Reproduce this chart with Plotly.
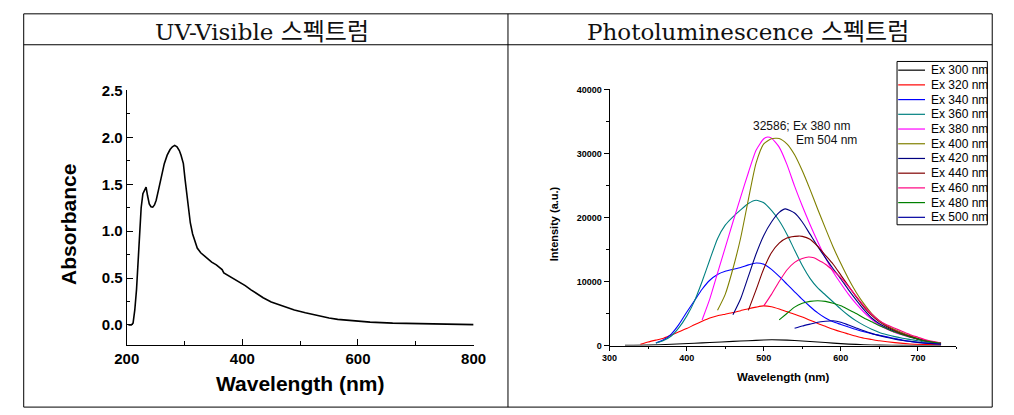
import plotly.graph_objects as go

# ---------------- UV-Visible data ----------------
uv_wavelength = [203, 208, 211, 214, 217, 219.5, 222, 225, 228, 231, 233.5, 236, 239, 242, 245,
                 248, 251, 255, 260, 265, 270, 275, 279, 283, 287, 291, 294, 298, 301, 304,
                 307, 310, 314, 318, 322, 328, 334, 340, 347, 355, 362, 365, 368, 372, 378,
                 385, 395, 405, 415, 425, 436, 450, 470, 490, 509, 530, 550, 565, 600, 621,
                 660, 700, 750, 800]
uv_absorbance = [0.0, 0.0, 0.02, 0.16, 0.38, 0.68, 1.0, 1.25, 1.40, 1.45, 1.47, 1.38, 1.29, 1.26, 1.256,
                 1.28, 1.33, 1.44, 1.58, 1.72, 1.81, 1.87, 1.90, 1.915, 1.90, 1.86, 1.81, 1.72, 1.55, 1.38,
                 1.22, 1.09, 0.97, 0.88, 0.82, 0.77, 0.74, 0.70, 0.67, 0.64, 0.61, 0.59, 0.555, 0.54, 0.52,
                 0.50, 0.46, 0.42, 0.375, 0.335, 0.29, 0.245, 0.20, 0.16, 0.13, 0.10, 0.075, 0.06, 0.04, 0.03,
                 0.02, 0.014, 0.008, 0.004]

# ---------------- Photoluminescence data ----------------
pl_names = ["Ex 300 nm", "Ex 320 nm", "Ex 340 nm", "Ex 360 nm", "Ex 380 nm", "Ex 400 nm",
            "Ex 420 nm", "Ex 440 nm", "Ex 460 nm", "Ex 480 nm", "Ex 500 nm"]
pl_colors = ["#000000", "#FF0000", "#0000FF", "#008080", "#FF00FF", "#808000",
             "#000080", "#800000", "#FF0080", "#008000", "#0000A0"]

ex300_wl = [320, 350, 380, 410, 430, 460, 480, 500, 510, 530, 550, 570, 590, 610, 630, 650, 680, 730]
ex300_int = [20, 60, 200, 350, 480, 650, 760, 870, 900, 850, 720, 560, 380, 230, 130, 70, 30, 10]

ex320_wl = [340, 350, 360, 370, 380, 390, 400, 410, 420, 430, 440, 450, 460, 470, 480, 490, 500, 510,
            520, 530, 540, 550, 560, 570, 580, 590, 600, 610, 620, 630, 640, 650, 670, 690, 710, 730]
ex320_int = [200, 550, 850, 1150, 1650, 2150, 2650, 3250, 3800, 4300, 4650, 4900, 5150, 5450, 5750, 6000, 6200, 6050,
             5700, 5300, 4900, 4450, 3950, 3450, 3000, 2550, 2150, 1800, 1450, 1150, 950, 750, 450, 250, 180, 120]

ex340_wl = [360, 370, 380, 390, 400, 410, 420, 430, 440, 450, 460, 470, 480, 490, 500, 510, 520, 530,
            540, 550, 560, 570, 580, 590, 600, 610, 620, 630, 640, 650, 660, 670, 680, 690, 700, 710, 730]
ex340_int = [400, 900, 1800, 3300, 5200, 7000, 8800, 10200, 11100, 11600, 11900, 12200, 12600, 12900, 12700, 11900, 10800, 9600,
             8400, 7200, 6100, 5100, 4300, 3700, 3300, 2900, 2500, 2150, 1850, 1600, 1350, 1100, 850, 650, 500, 380, 250]

ex360_wl = [360, 370, 380, 390, 400, 410, 420, 430, 440, 450, 460, 470, 480, 490, 500, 510, 520, 530,
            540, 550, 560, 570, 580, 590, 600, 610, 620, 630, 640, 650, 660, 670, 680, 690, 700, 710, 730]
ex360_int = [400, 800, 1500, 2800, 4600, 6900, 10000, 13400, 16700, 18800, 20100, 21200, 22200, 22700, 22300, 21100, 19500, 17400,
             14900, 12500, 10500, 9000, 7900, 6800, 5700, 4700, 3850, 3150, 2550, 2050, 1700, 1400, 1150, 950, 750, 550, 300]

ex380_wl = [420, 430, 440, 450, 460, 470, 480, 490, 500, 505, 510, 520, 530, 540, 550, 560, 570, 580,
            590, 600, 610, 620, 630, 640, 650, 660, 670, 680, 690, 700, 710, 730]
ex380_int = [4000, 7300, 11300, 15300, 19300, 23200, 27000, 30500, 32300, 32586, 32400, 31000, 28300, 24900, 21800, 18900, 16200, 13700,
             11500, 9700, 8000, 6500, 5200, 4100, 3200, 2550, 2050, 1650, 1300, 1000, 700, 350]

ex400_wl = [440, 450, 460, 470, 480, 490, 500, 510, 520, 530, 540, 550, 560, 570, 580, 590, 600, 610,
            620, 630, 640, 650, 660, 670, 680, 690, 700, 710, 730]
ex400_int = [5500, 8000, 12000, 16800, 22800, 28500, 31500, 32300, 32350, 31500, 29800, 27300, 24400, 21300, 18300, 15400, 12800, 10400,
             8300, 6500, 5000, 3900, 3100, 2500, 2000, 1550, 1150, 800, 350]

ex420_wl = [460, 470, 480, 490, 500, 510, 520, 528, 540, 550, 560, 570, 580, 590, 600, 610, 620, 630,
            640, 650, 660, 670, 680, 690, 700, 710, 730]
ex420_int = [4800, 7300, 10800, 14300, 17200, 19300, 20800, 21350, 20700, 19300, 17400, 15500, 13700, 12000, 10400, 8700, 7100, 5600,
             4300, 3400, 2750, 2250, 1800, 1400, 1000, 700, 350]

ex440_wl = [480, 490, 500, 510, 520, 530, 545, 550, 560, 570, 580, 590, 600, 610, 620, 630, 640, 650,
            660, 670, 680, 690, 700, 710, 730]
ex440_int = [5500, 8700, 12000, 14500, 16000, 16800, 17100, 17050, 16600, 15500, 14100, 12700, 11000, 9300, 7600, 6000, 4700, 3700,
             2950, 2350, 1850, 1400, 1000, 700, 350]

ex460_wl = [500, 510, 520, 530, 540, 550, 558, 565, 570, 580, 590, 600, 610, 620, 630, 640, 650, 660,
            670, 680, 690, 700, 710, 730]
ex460_int = [6200, 8000, 10000, 11800, 13000, 13600, 13830, 13700, 13400, 12700, 11700, 10600, 9200, 7700, 6200, 4900, 3900, 3200,
             2700, 2200, 1700, 1300, 900, 400]

ex480_wl = [520, 530, 540, 550, 560, 570, 580, 590, 600, 610, 620, 630, 640, 650, 660, 670, 680, 690, 700, 710, 730]
ex480_int = [4000, 5000, 6000, 6600, 6900, 7000, 6900, 6600, 6200, 5600, 5000, 4300, 3700, 3100, 2600, 2100, 1700, 1300, 1000, 700, 350]

ex500_wl = [540, 550, 560, 570, 580, 590, 600, 610, 620, 630, 640, 650, 660, 670, 680, 690, 700, 710, 730]
ex500_int = [2700, 3050, 3350, 3650, 3800, 3880, 3650, 3200, 2750, 2300, 1900, 1550, 1250, 1000, 800, 650, 500, 380, 200]

pl_wl = [ex300_wl, ex320_wl, ex340_wl, ex360_wl, ex380_wl, ex400_wl, ex420_wl, ex440_wl, ex460_wl, ex480_wl, ex500_wl]
pl_int = [ex300_int, ex320_int, ex340_int, ex360_int, ex380_int, ex400_int, ex420_int, ex440_int, ex460_int, ex480_int, ex500_int]

# ---------------- figure ----------------
W, H = 1014, 415
def px(x):
    return x / W
def py(y):
    return 1 - y / H

ARIAL = "Liberation Sans, Arial, sans-serif"
SERIF = "DejaVu Serif, Liberation Serif, serif"

fig = go.Figure()

fig.add_trace(go.Scatter(x=uv_wavelength, y=uv_absorbance, mode="lines",
                         line=dict(color="black", width=1.6),
                         xaxis="x", yaxis="y", showlegend=False))

for name, color, wl, inten in zip(pl_names, pl_colors, pl_wl, pl_int):
    fig.add_trace(go.Scatter(x=wl, y=inten, mode="lines", name=name,
                             line=dict(color=color, width=1.1, shape="spline", smoothing=0.6),
                             xaxis="x2", yaxis="y2", showlegend=False))

bold15 = dict(family=ARIAL, size=15, color="black", weight="bold")
bold9 = dict(family=ARIAL, size=9, color="black", weight="bold")

fig.update_layout(
    width=W, height=H,
    margin=dict(l=0, r=0, t=0, b=0),
    paper_bgcolor="white", plot_bgcolor="white",
    showlegend=False,
    xaxis=dict(domain=[px(116.7), px(472.7)], range=[200, 800], tick0=200, dtick=200,
               ticks="inside", ticklen=6, tickwidth=1, tickcolor="black",
               minor=dict(dtick=100, ticks="inside", ticklen=4, tickcolor="black"),
               showline=True, linecolor="black", linewidth=1, showgrid=False, zeroline=False,
               tickfont=bold15, anchor="y"),
    yaxis=dict(domain=[py(347.3), py(84.3)], range=[-0.209, 2.5], tick0=0, dtick=0.5, tickformat=".1f",
               ticks="inside", ticklen=6, tickwidth=1, tickcolor="black",
               minor=dict(dtick=0.25, ticks="inside", ticklen=3, tickcolor="black"),
               showline=True, linecolor="black", linewidth=1, showgrid=False, zeroline=False,
               tickfont=bold15, anchor="x"),
    xaxis2=dict(domain=[px(612.3), px(968.3)], range=[300, 750], tick0=300, dtick=100,
                ticks="outside", ticklen=4, tickwidth=1, tickcolor="black",
                minor=dict(dtick=50, ticks="outside", ticklen=2, tickcolor="black"),
                showline=True, linecolor="black", linewidth=1, showgrid=False, zeroline=False,
                tickfont=bold9, anchor="y2"),
    yaxis2=dict(domain=[py(348.3), py(83.3)], range=[0, 40000], tick0=0, dtick=10000, tickformat="d",
                ticks="outside", ticklen=5, tickwidth=1, tickcolor="black",
                minor=dict(dtick=5000, ticks="outside", ticklen=3, tickcolor="black"),
                showline=True, linecolor="black", linewidth=1, showgrid=False, zeroline=False,
                tickfont=bold9, anchor="x2"),
)

shapes = []
line_style = dict(color="black", width=1)
# table frame
shapes.append(dict(type="rect", xref="paper", yref="paper", x0=px(11), x1=px(1005), y0=py(412), y1=py(5), line=line_style))
shapes.append(dict(type="line", xref="paper", yref="paper", x0=px(11), x1=px(1005), y0=py(37), y1=py(37), line=line_style))
shapes.append(dict(type="line", xref="paper", yref="paper", x0=px(508), x1=px(508), y0=py(5), y1=py(412), line=line_style))

annotations = []
kr_span = '<span style="font-family:\'Noto Sans CJK KR\';font-size:24px">스펙트럼</span>'
# header titles
annotations.append(dict(text="UV-Visible " + kr_span, x=px(256), y=py(21), xref="paper", yref="paper",
                        showarrow=False, xanchor="center", yanchor="middle",
                        font=dict(family=SERIF, size=23, color="#111")))
annotations.append(dict(text="Photoluminescence " + kr_span, x=px(754), y=py(21), xref="paper", yref="paper",
                        showarrow=False, xanchor="center", yanchor="middle",
                        font=dict(family=SERIF, size=23, color="#111")))
# axis titles
annotations.append(dict(text="Wavelength (nm)", x=px(295), y=py(388), xref="paper", yref="paper",
                        showarrow=False, xanchor="center", yanchor="middle",
                        font=dict(family=ARIAL, size=21, color="black", weight="bold")))
annotations.append(dict(text="Absorbance", x=px(57), y=py(223), xref="paper", yref="paper", textangle=-90,
                        showarrow=False, xanchor="center", yanchor="middle",
                        font=dict(family=ARIAL, size=21, color="black", weight="bold")))
annotations.append(dict(text="Wavelength (nm)", x=px(790), y=py(381), xref="paper", yref="paper",
                        showarrow=False, xanchor="center", yanchor="middle",
                        font=dict(family=ARIAL, size=11.5, color="black", weight="bold")))
annotations.append(dict(text="Intensity (a.u.)", x=px(555), y=py(222), xref="paper", yref="paper", textangle=-90,
                        showarrow=False, xanchor="center", yanchor="middle",
                        font=dict(family=ARIAL, size=11, color="black", weight="bold")))
# peak label
annotations.append(dict(text="32586; Ex 380 nm", x=px(757), y=py(121), xref="paper", yref="paper",
                        showarrow=False, xanchor="left", yanchor="middle",
                        font=dict(family=ARIAL, size=12, color="#111")))
annotations.append(dict(text="Em 504 nm", x=px(802), y=py(136), xref="paper", yref="paper",
                        showarrow=False, xanchor="left", yanchor="middle",
                        font=dict(family=ARIAL, size=12, color="#111")))

# legend box (drawn manually)
lg_x0, lg_x1, lg_y0, lg_y1 = 907.3, 1000, 54.3, 223.3
shapes.append(dict(type="rect", xref="paper", yref="paper", x0=px(lg_x0), x1=px(lg_x1),
                   y0=py(lg_y1), y1=py(lg_y0), line=line_style, fillcolor="white"))
for i, (name, color) in enumerate(zip(pl_names, pl_colors)):
    yc = 63.3 + i * 15.23
    shapes.append(dict(type="line", xref="paper", yref="paper", x0=px(908.5), x1=px(936),
                       y0=py(yc), y1=py(yc), line=dict(color=color, width=1.2)))
    annotations.append(dict(text=name, x=px(940), y=py(yc), xref="paper", yref="paper",
                            showarrow=False, xanchor="left", yanchor="middle",
                            font=dict(family=ARIAL, size=12, color="black")))

fig.update_layout(shapes=shapes, annotations=annotations)

fig.write_html("out.html")
